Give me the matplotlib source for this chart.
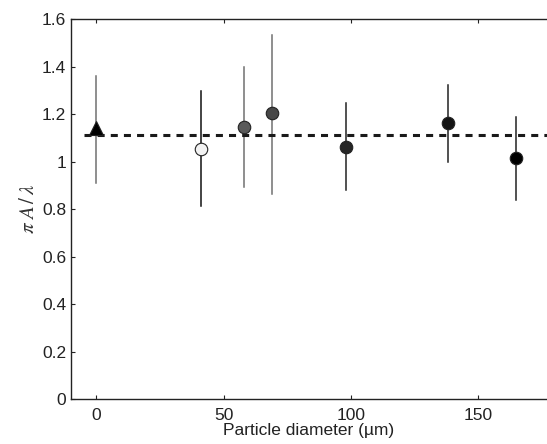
#
# Plotting script
#

import numpy as np
import matplotlib
matplotlib.use("Agg")
import matplotlib.pyplot as plt

plt.rcParams['font.family'] = ['Liberation Sans', 'DejaVu Sans']
plt.rcParams['mathtext.fontset'] = 'stix'

# Data
diam = [0, 41, 58, 69, 98, 138, 165]
ratio = [1.14, 1.055, 1.147, 1.203, 1.063, 1.161, 1.014]
err_hi = [1.36, 1.297, 1.397, 1.533, 1.245, 1.322, 1.189]
err_lo = [0.911, 0.813, 0.894, 0.865, 0.881, 1.0, 0.838]
markers = ['^', 'o', 'o', 'o', 'o', 'o', 'o']
face = ['#000000', '#f2f2f2', '#5a5a5a', '#474747', '#262626', '#141414', '#000000']
bar_col = ['#707070', '#111111', '#707070', '#707070', '#222222', '#222222', '#222222']
mean_value = 1.112

fig = plt.figure(figsize=(5.47, 4.44), dpi=100)
ax = fig.add_axes([0.1298, 0.1007, 0.8702, 0.8565])

# Error bars and points
for i in range(len(diam)):
    ax.plot([diam[i], diam[i]], [err_lo[i], err_hi[i]], color=bar_col[i], lw=1.1, zorder=2)
for i in range(len(diam)):
    ax.plot(diam[i], ratio[i], marker=markers[i], ms=9 if markers[i] == 'o' else 9.5,
            mfc=face[i], mec='#222222', mew=0.8, ls='none', zorder=4)

# Mean line
ax.plot([-5, 180], [mean_value, mean_value], color='#1a1a1a', lw=2.2,
        ls=(0, (2.3, 2.0)), zorder=3)

ax.set_xlim(-10, 177.1)
ax.set_ylim(0, 1.6)
ax.set_xticks([0, 50, 100, 150])
ax.set_yticks([0, 0.2, 0.4, 0.6, 0.8, 1, 1.2, 1.4, 1.6])
ax.set_yticklabels(['0', '0.2', '0.4', '0.6', '0.8', '1', '1.2', '1.4', '1.6'])
ax.tick_params(direction='in', length=3, width=0.8, labelsize=12.5,
               top=True, colors='#222222', labelcolor='#222222')
ax.tick_params(axis='x', pad=6)
ax.spines['right'].set_visible(False)
for s in ['left', 'top', 'bottom']:
    ax.spines[s].set_linewidth(1.0)
    ax.spines[s].set_color('#222222')

ax.set_xlabel('Particle diameter (\u00b5m)', fontsize=12.5, color='#222222', labelpad=0)
ax.set_ylabel(r'$\pi\ A\,/\,\lambda$', fontsize=15, color='#333333', labelpad=3)

plt.savefig("out.png", dpi=100)
